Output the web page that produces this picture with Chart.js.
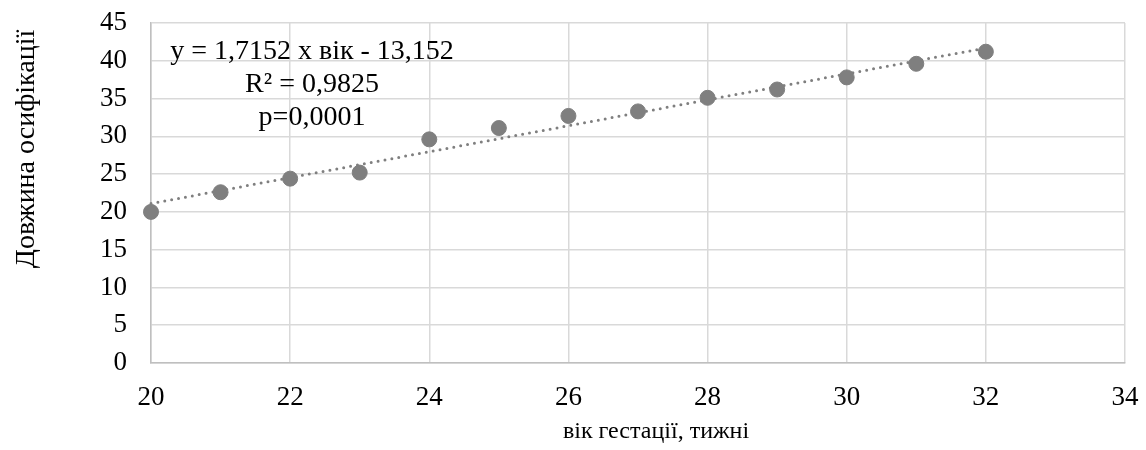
<!DOCTYPE html>
<html>
<head>
<meta charset="utf-8">
<script src="https://cdn.jsdelivr.net/npm/chart.js@4/dist/chart.umd.min.js"></script>
<style>
  html, body { margin: 0; padding: 0; background: #fff; }
  #wrap { width: 1146px; height: 450px; }
</style>
</head>
<body>
<div id="wrap"><canvas id="myChart"></canvas></div>
<script>
// weeks of gestation and ossification length
const weeks = [20, 21, 22, 23, 24, 25, 26, 27, 28, 29, 30, 31, 32];
const lengths = [20.0, 22.6, 24.4, 25.2, 29.6, 31.1, 32.7, 33.3, 35.1, 36.2, 37.8, 39.6, 41.2];

// trend line ends
const trendX = [20, 32];
const trendY = [21.1, 41.7];

const equationLines = ['y = 1,7152 x вік - 13,152', 'R² = 0,9825', 'p=0,0001'];
const xTitle = 'вік гестації, тижні';
const yTitle = 'Довжина осифікації';

const serif = '"Liberation Serif", "Times New Roman", serif';
const grey = '#7f7f7f';

const pointsData = weeks.map((w, i) => ({ x: w, y: lengths[i] }));
const trendData = trendX.map((w, i) => ({ x: w, y: trendY[i] }));

// axis titles and the equation box
const textPlugin = {
  id: 'texts',
  afterDraw(chart) {
    const ctx = chart.ctx;
    const area = chart.chartArea;
    ctx.save();
    ctx.fillStyle = '#000';
    ctx.textAlign = 'center';
    ctx.textBaseline = 'middle';

    ctx.font = '28px ' + serif;
    equationLines.forEach((t, i) => {
      ctx.fillText(t, area.left + 161, area.top + 29 + i * 33);
    });

    ctx.font = '24px ' + serif;
    ctx.fillText(xTitle, 656, 432);

    ctx.translate(27, 149);
    ctx.rotate(-Math.PI / 2);
    ctx.font = '28px ' + serif;
    ctx.fillText(yTitle, 0, 0);
    ctx.restore();
  }
};

const ctx = document.getElementById('myChart').getContext('2d');
const myChart = new Chart(ctx, {
  type: 'scatter',
  data: {
    datasets: [
      {
        data: pointsData,
        backgroundColor: grey,
        borderColor: grey,
        pointRadius: 7.5,
        pointHoverRadius: 7.5,
        order: 0,
        clip: false
      },
      {
        data: trendData,
        showLine: true,
        borderColor: grey,
        borderWidth: 3,
        borderDash: [0, 7],
        borderCapStyle: 'round',
        pointRadius: 0,
        order: 1,
        clip: false
      }
    ]
  },
  options: {
    responsive: true,
    maintainAspectRatio: false,
    animation: false,
    layout: { padding: { left: 0, right: 21, top: 23, bottom: 0 } },
    plugins: {
      legend: { display: false },
      tooltip: { enabled: false }
    },
    scales: {
      x: {
        min: 20,
        max: 34,
        ticks: {
          stepSize: 2,
          padding: 19,
          color: '#000',
          font: { family: serif, size: 27 }
        },
        grid: { color: '#d9d9d9', lineWidth: 1.5, drawTicks: false },
        border: { color: '#bfbfbf', width: 1.5 },
        afterFit(scale) {
          scale.height = 87;
          scale.paddingLeft = 0;
          scale.paddingRight = 0;
        }
      },
      y: {
        min: 0,
        max: 45,
        ticks: {
          stepSize: 5,
          padding: 24,
          color: '#000',
          font: { family: serif, size: 27 }
        },
        grid: { color: '#d9d9d9', lineWidth: 1.5, drawTicks: false },
        border: { color: '#bfbfbf', width: 1.5 },
        afterFit(scale) {
          scale.width = 151;
          scale.paddingTop = 0;
          scale.paddingBottom = 0;
        }
      }
    }
  },
  plugins: [textPlugin]
});
</script>
</body>
</html>
